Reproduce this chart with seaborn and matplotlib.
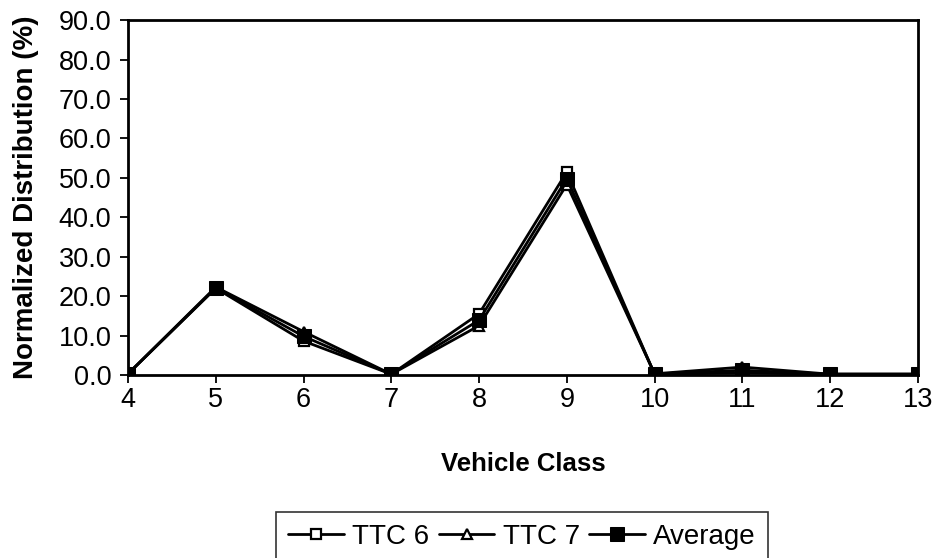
import matplotlib
matplotlib.use("Agg")
import matplotlib.pyplot as plt
import seaborn as sns
import pandas as pd

vehicle_class = [4, 5, 6, 7, 8, 9, 10, 11, 12, 13]
ttc6 = [0.3, 22.0, 8.6, 0.2, 15.5, 51.5, 0.2, 0.5, 0.2, 0.2]
ttc7 = [0.3, 22.3, 11.0, 0.2, 12.5, 48.3, 0.3, 2.0, 0.2, 0.2]
average = [0.3, 22.1, 9.8, 0.2, 13.9, 49.8, 0.25, 1.2, 0.2, 0.2]
series_names = ["TTC 6", "TTC 7", "Average"]
y_ticks = [0, 10, 20, 30, 40, 50, 60, 70, 80, 90]

sns.set_theme(style="ticks")
plt.rcParams['font.family'] = ['Liberation Sans', 'DejaVu Sans']
plt.rcParams['text.color'] = 'black'
plt.rcParams['axes.labelcolor'] = 'black'

fig = plt.figure(figsize=(9.38, 5.58), dpi=100)
ax = fig.add_axes([0.1365, 0.328, 0.842, 0.636])

df = pd.DataFrame({"cls": vehicle_class, "TTC 6": ttc6, "TTC 7": ttc7, "Average": average})

sns.lineplot(data=df, x="cls", y="TTC 6", ax=ax, color="black", lw=2.4,
             marker="s", markersize=10, markerfacecolor="white",
             markeredgecolor="black", markeredgewidth=1.6, label=series_names[0])
sns.lineplot(data=df, x="cls", y="TTC 7", ax=ax, color="black", lw=2.4,
             marker="^", markersize=11, markerfacecolor="white",
             markeredgecolor="black", markeredgewidth=1.6, label=series_names[1])
sns.lineplot(data=df, x="cls", y="Average", ax=ax, color="black", lw=2.4,
             marker="s", markersize=15, markerfacecolor="black",
             markeredgecolor="black", label=series_names[2])

ax.set_xlim(4, 13)
ax.set_ylim(0, 90)
ax.set_xticks(vehicle_class)
ax.set_xticklabels([str(v) for v in vehicle_class])
ax.set_yticks(y_ticks)
ax.set_yticklabels([f"{v:.1f}" for v in y_ticks])
for sp in ax.spines.values():
    sp.set_visible(True)
    sp.set_color("black")
    sp.set_linewidth(2.0)
ax.tick_params(axis="both", labelsize=19.5, direction="out", length=6,
               width=1.3, color="black", labelcolor="black")
ax.tick_params(axis="y", pad=6)
ax.tick_params(axis="x", pad=3)
ax.set_xlabel("Vehicle Class", fontsize=18.5, fontweight="bold", labelpad=28)
ax.set_ylabel("Normalized Distribution (%)", fontsize=20, fontweight="bold", labelpad=14)
ax.get_legend().remove()

handles, labels = ax.get_legend_handles_labels()
for h in handles:
    h.set_markersize(h.get_markersize() * 0.65)
    h.set_linewidth(2.0)
leg = fig.legend(handles, labels, loc="upper center", bbox_to_anchor=(0.5565, 0.083),
                 ncol=3, fontsize=20, frameon=True, fancybox=False,
                 handlelength=2.0, handletextpad=0.3, columnspacing=0.35,
                 borderpad=0.45, borderaxespad=0)
leg.get_frame().set_edgecolor("black")
leg.get_frame().set_linewidth(1.2)

fig.savefig("out.png", dpi=100)
